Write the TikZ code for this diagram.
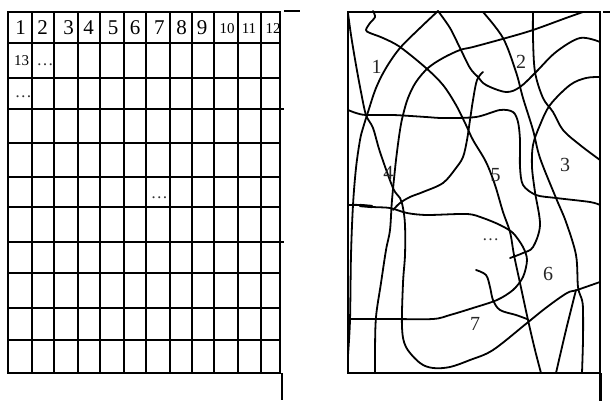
\documentclass[tikz,border=0pt]{standalone}
\usepackage{fontspec}
\setmainfont{Liberation Serif}
\begin{document}
\begin{tikzpicture}[x=1pt,y=-1pt,
  gridline/.style={line width=2.1pt, line cap=rect},
  curve/.style={line width=1.8pt, line join=round, line cap=round},
  big/.style={inner sep=0pt, anchor=base, font=\fontsize{21}{21}\selectfont},
  small/.style={inner sep=0pt, anchor=base, font=\fontsize{15}{15}\selectfont},
  dotsl/.style={inner sep=0pt, anchor=base, font=\fontsize{17}{17}\selectfont, text=black!80},
  lbl/.style={inner sep=0pt, anchor=base, font=\fontsize{20}{20}\selectfont, text=black!85}]
\useasboundingbox (0,0) rectangle (610,401);
\fill[white] (0,0) rectangle (610,401);

% ---------- left grid ----------
\foreach \x in {8,32.3,54.3,78.3,100,124,146,170,192,214,238,260.7,280}
  \draw[gridline] (\x,12) -- (\x,373.3);
\foreach \y in {12,43.3,77.7,142.7,176.7,207.3,273.3,307.7,340,373.3}
  \draw[gridline] (8,\y) -- (280,\y);
\foreach \y in {109,241.7}
  \draw[gridline] (8,\y) -- (283,\y);
\draw[line width=2pt] (284,11) -- (300,11);
\draw[line width=2.8pt] (282,373) -- (282,400);

% numbers
\node[big] (g1) at (20.7,35) {1};
\node[big] (g2) at (42.7,35) {2};
\node[big] (g3) at (68.5,35) {3};
\node[big] (g4) at (88.5,35) {4};
\node[big] (g5) at (113,35) {5};
\node[big] (g6) at (135,35) {6};
\node[big] (g7) at (159.3,35) {7};
\node[big] (g8) at (181.7,35) {8};
\node[big] (g9) at (202,35) {9};
\node[small] (g10) at (227,34) {10};
\node[small] (g11) at (249,34) {11};
\node[small] (g12) at (273,34) {12};
\node[small] (g13) at (21.7,66) {13};
\node[dotsl] (gd1) at (45,66) {…};
\node[dotsl] (gd2) at (23.3,98) {…};
\node[dotsl] (gd3) at (159.3,198) {…};

% ---------- right map ----------
\draw[line width=2pt] (348,373) -- (348,12) -- (600,12) -- (600,373) -- cycle;
\draw[line width=2pt] (603,12) -- (610,12);
\draw[line width=3pt] (600.5,373) -- (600.5,401);

% A
\draw[curve] plot[smooth, tension=0.55] coordinates {(373,11) (375,17) (370,23) (366,30) (370,33) (383,38) (400,47) (426,68) (443,85) (456,105) (466,125) (473,140) (486,162) (495,185) (503,212) (510,232) (514,255) (520,283) (528,320) (535,350) (541,373)};
% B
\draw[curve] plot[smooth, tension=0.55] coordinates {(438,11) (420,28) (400,48) (386,68) (376,88) (368,112) (363,128) (360,140) (356,168) (353,205) (351,255) (350,320) (348,355)};
% C (with U)
\draw[curve] plot[smooth, tension=0.55] coordinates {(348,13) (351,35) (356,65) (361,92) (366,115) (373,128) (380,152) (393,188) (400,198) (403,208) (405,225) (405,255) (403,283) (402,327) (406,347) (420,363) (433,368) (450,367) (470,360) (493,350) (527,323) (547,307) (567,293) (577,290) (600,282)};
% E
\draw[curve] plot[smooth, tension=0.55] coordinates {(583,12) (566,18) (533,30) (506,38) (473,47) (460,50) (443,58) (428,68) (416,82) (408,98) (403,115) (400,130) (396,160) (392,200) (390,230) (386,250) (381,283) (376,317) (375,350) (375,373)};
% F
\draw[curve] plot[smooth, tension=0.55] coordinates {(483,12) (503,38) (516,72) (523,98) (533,130) (540,158) (556,198) (566,222) (576,255) (578,287) (582,300) (583,310) (583,340) (582,373)};
% G
\draw[curve] plot[smooth, tension=0.55] coordinates {(533,12) (533,38) (535,72) (543,98) (553,112) (563,130) (580,145) (600,160)};
% H
\draw[curve] plot[smooth, tension=0.55] coordinates {(438,11) (450,28) (460,48) (470,68) (478,77) (486,85) (506,92) (520,87) (536,72) (556,52) (580,38) (600,42)};
% I
\draw[curve] plot[smooth, tension=0.5] coordinates {(348,110) (356,113) (366,115) (393,115) (426,117) (443,118) (476,117) (500,110) (513,112) (518,122) (520,140) (520,167) (523,185) (536,195) (556,198) (590,202) (600,205)};
% J
\draw[curve] plot[smooth, tension=0.55] coordinates {(600,77) (586,78) (570,85) (550,105) (540,125) (533,145) (532,167) (535,192) (540,225) (533,247) (523,253) (510,258)};
% K
\draw[curve] plot[smooth, tension=0.55] coordinates {(483,72) (477,80) (473,100) (470,120) (467,140) (463,157) (456,168) (443,183) (423,192) (410,197) (400,203) (393,210)};
% L2
\draw[curve] plot[smooth, tension=0.5] coordinates {(348,205) (360,205) (373,207) (390,208) (407,213) (427,215) (467,214) (483,218) (500,225) (513,233) (523,247) (527,260) (523,277) (513,290) (497,300) (473,308) (450,315) (433,319) (390,319) (348,319)};
\draw[line width=3.2pt, line cap=round] (360,205.5) -- (372,206.5);
% M
\draw[curve] plot[smooth, tension=0.55] coordinates {(476,270) (486,275) (490,287) (493,300) (500,310) (516,315) (527,319)};
% N
\draw[curve] plot[smooth, tension=0.55] coordinates {(576,290) (566,330) (556,373)};

% labels
\node[lbl] (r1) at (376.7,73.3) {1};
\node[lbl] (r2) at (521,68.3) {2};
\node[lbl] (r3) at (565,171.7) {3};
\node[lbl] (r4) at (388.3,179.3) {4};
\node[lbl] (r5) at (495.5,181.7) {5};
\node[lbl] (r6) at (548,280) {6};
\node[lbl] (r7) at (475,330) {7};
\node[dotsl] (rd) at (490.7,240) {…};
\end{tikzpicture}
\end{document}
